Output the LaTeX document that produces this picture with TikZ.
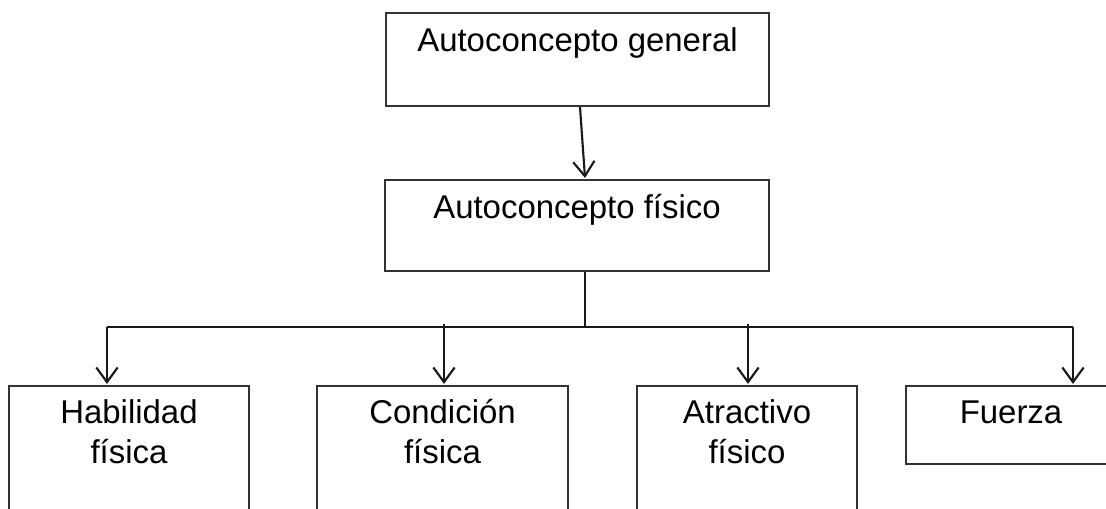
\documentclass[tikz,border=0pt]{standalone}
\usepackage{fontspec}
\setmainfont{Liberation Sans}
\usetikzlibrary{arrows.meta,calc,fit}
\tikzset{
  box/.style={draw=black!80, line width=1.6pt, inner sep=0pt, fill=none},
  lbl/.style={font=\fontsize{24.7}{30}\selectfont, text=black, inner sep=0pt, align=center},
  link/.style={draw=black!90, line width=1.6pt},
  arr/.style={link, -{Straight Barb[length=11pt, width=16pt, line width=1.6pt]}}
}
\begin{document}
\begin{tikzpicture}[x=0.75pt, y=-0.75pt]
  \clip (0,0) rectangle (1106,508);
  \fill[white] (0,0) rectangle (1106,508);

  % upper levels
  \node[box, fit={(386,13) (769,106)}] (gen) {};
  \node[box, fit={(385,180) (769,271)}] (fis) {};
  \node[lbl, anchor=base] (tgen) at ($(gen.north)+(0,40)$) {Autoconcepto general};
  \node[lbl, anchor=base] (tfis) at ($(fis.north)+(0,40)$) {Autoconcepto físico};

  % lower level (boxes run past the lower edge)
  \node[box, fit={(9,386) (249,540)}] (hab) {};
  \node[box, fit={(317,386) (568,540)}] (con) {};
  \node[box, fit={(637,386) (857,540)}] (atr) {};
  \node[box, fit={(906,386) (1116,464)}] (fue) {};
  % two-line labels: base anchor sits on the second line
  \node[lbl, anchor=base] (thab) at ($(hab.north)+(0,79)$) {Habilidad\\física};
  \node[lbl, anchor=base] (tcon) at ($(con.north)+(0,79)$) {Condición\\física};
  \node[lbl, anchor=base] (tatr) at ($(atr.north)+(0,79)$) {Atractivo\\físico};
  \node[lbl, anchor=base] (tfue) at ($(fue.north)+(0,39)$) {Fuerza};

  % connectors
  \coordinate (bus) at ($(fis.south)+(8,56)$);
  \coordinate (busL) at (107,327);
  \coordinate (busR) at (1073,327);
  \draw[arr] ($(gen.south)+(2.5,0)$) -- ($(fis.north)+(8,-1)$);
  \draw[link] ($(fis.south)+(8,0)$) -- (bus);
  \draw[link] (busL) -- (busR);
  \draw[arr] (busL) -- ($(busL |- hab.north)+(0,-1)$);
  \draw[arr] ($(con.north)+(1.5,-61)$) -- ($(con.north)+(1.5,-1)$);
  \draw[arr] ($(atr.north)+(1,-61)$) -- ($(atr.north)+(1,-1)$);
  \draw[arr] (busR) -- ($(busR |- fue.north)+(0,-1)$);
\end{tikzpicture}
\end{document}
